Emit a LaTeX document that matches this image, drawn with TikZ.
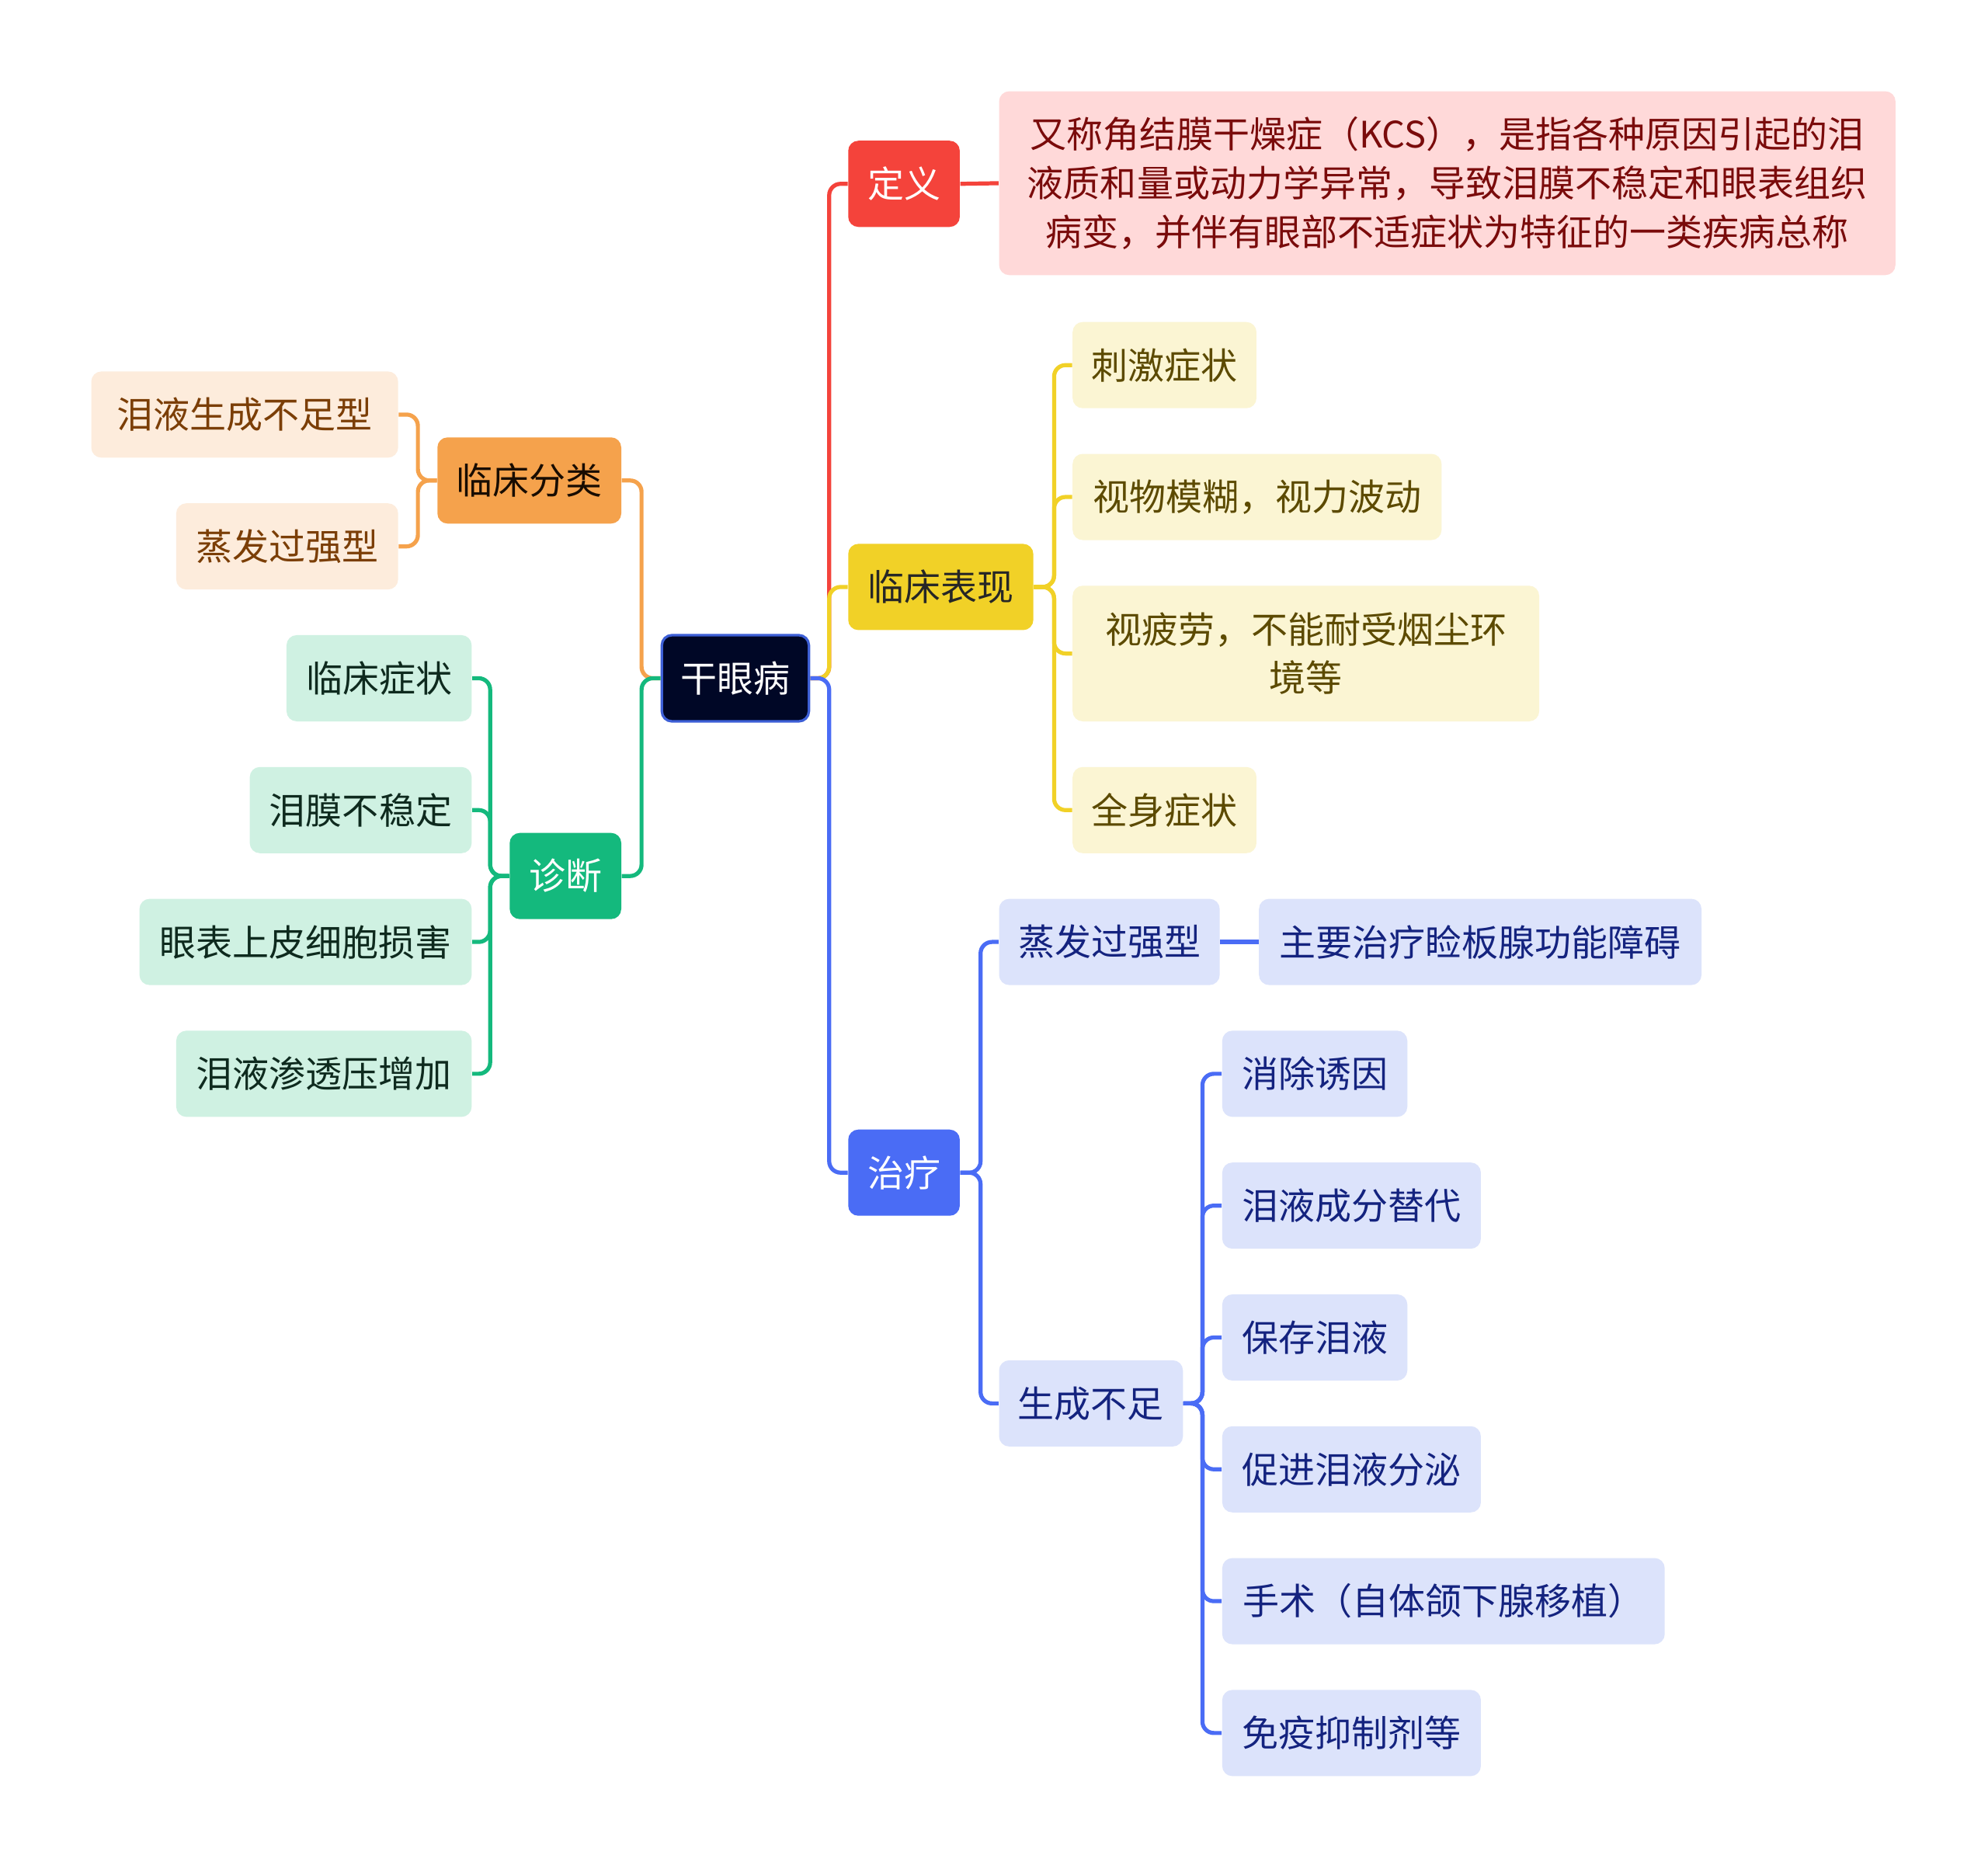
\documentclass[tikz,border=0pt]{standalone}
\usepackage{fontspec}
\setmainfont{Noto Sans CJK SC}
\definecolor{cred}{HTML}{F4433B}
\definecolor{credl}{HTML}{FFD9D9}
\definecolor{credt}{HTML}{7A0B0B}
\definecolor{cyel}{HTML}{F1D127}
\definecolor{cyell}{HTML}{FBF5D3}
\definecolor{cyelt}{HTML}{5C4A00}
\definecolor{cblue}{HTML}{4A6CF5}
\definecolor{cbluel}{HTML}{DCE3FB}
\definecolor{cbluet}{HTML}{14237F}
\definecolor{corg}{HTML}{F5A24C}
\definecolor{corgl}{HTML}{FDECDC}
\definecolor{corgt}{HTML}{7B3E06}
\definecolor{cgrn}{HTML}{14B97D}
\definecolor{cgrnl}{HTML}{CFF1E2}
\definecolor{cgrnt}{HTML}{0E2A1E}
\definecolor{croot}{HTML}{000726}
\definecolor{crootb}{HTML}{3D5FD6}
\begin{document}
\begin{tikzpicture}[x=0.5pt,y=-0.5pt,
  every node/.style={font=\fontsize{14.4pt}{19.25pt}\selectfont, inner sep=0pt, rounded corners=4pt, align=center},
  sz/.style 2 args={minimum width=#1*0.5pt, minimum height=#2*0.5pt},
  ln/.style={line width=1.6pt, rounded corners=4.5pt},
  rootbox/.style={fill=croot, draw=crootb, line width=1pt, text=white},
  redmain/.style={fill=cred, text=white},
  redsub/.style={fill=credl, text=credt},
  yelmain/.style={fill=cyel, text=black!85},
  yelsub/.style={fill=cyell, text=cyelt},
  bluemain/.style={fill=cblue, text=white},
  bluesub/.style={fill=cbluel, text=cbluet},
  orgmain/.style={fill=corg, text=black!80!corgt},
  orgsub/.style={fill=corgl, text=corgt},
  grnmain/.style={fill=cgrn, text=white},
  grnsub/.style={fill=cgrnl, text=cgrnt}]
\fill[white] (0,0) rectangle (1568,1474);
\useasboundingbox (0,0) rectangle (1568,1474);

% root
\node[rootbox, sz={116}{68}] (root) at (580,535) {干眼病};

% right side main
\node[redmain, sz={88}{68}] (dy) at (713,145) {定义};
\node[redsub, sz={707}{145}] (def) at (1141.5,144.5) {又称角结膜干燥症（KCS），是指各种原因引起的泪\\液质和量或动力学异常，导致泪膜不稳定和眼表组织\\病变，并伴有眼部不适症状为特征的一类疾病总称};

\node[yelmain, sz={146}{68}] (bx) at (742,463) {临床表现};
\node[yelsub, sz={145}{68}] (b1) at (918.5,288) {刺激症状};
\node[yelsub, sz={291}{68}] (b2) at (991.5,392) {视物模糊，视力波动};
\node[yelsub, sz={368}{107}] (b3) at (1030,515.5) {视疲劳，不能耐受烟尘环\\境等};
\node[yelsub, sz={145}{68}] (b4) at (918.5,639) {全身症状};

\node[bluemain, sz={88}{68}] (zl) at (713,925) {治疗};
\node[bluesub, sz={174}{68}] (zf) at (875,743) {蒸发过强型};
\node[bluesub, sz={349}{68}] (zy) at (1167.5,743) {主要治疗睑板腺功能障碍};
\node[bluesub, sz={145}{68}] (sc) at (860.5,1107) {生成不足};
\node[bluesub, sz={146}{68}] (s1) at (1037,847) {消除诱因};
\node[bluesub, sz={204}{68}] (s2) at (1066,951) {泪液成分替代};
\node[bluesub, sz={146}{68}] (s3) at (1037,1055) {保存泪液};
\node[bluesub, sz={204}{68}] (s4) at (1066,1159) {促进泪液分泌};
\node[bluesub, sz={349}{68}] (s5) at (1138.5,1263) {手术（自体颌下腺移植）};
\node[bluesub, sz={204}{68}] (s6) at (1066,1367) {免疫抑制剂等};

% left side
\node[orgmain, sz={145}{68}] (fl) at (417.5,379) {临床分类};
\node[orgsub, sz={242}{68}] (f1) at (193,327) {泪液生成不足型};
\node[orgsub, sz={175}{68}] (f2) at (226.5,431) {蒸发过强型};

\node[grnmain, sz={88}{68}] (zd) at (446,691) {诊断};
\node[grnsub, sz={146}{68}] (d1) at (299,535) {临床症状};
\node[grnsub, sz={175}{68}] (d2) at (284.5,639) {泪膜不稳定};
\node[grnsub, sz={262}{68}] (d3) at (241,743) {眼表上皮细胞损害};
\node[grnsub, sz={233}{68}] (d4) at (255.5,847) {泪液渗透压增加};

% connectors right of root
\draw[ln, cred] (root.east) -- ++(15,0) |- (dy.west);
\draw[ln, cyel] (root.east) -- ++(15,0) |- (bx.west);
\draw[ln, cblue] (root.east) -- ++(15,0) |- (zl.west);
\draw[ln, cred] (dy.east) -- (def.west);

\foreach \c in {b1,b2,b3,b4}{\draw[ln, cyel] (bx.east) -- ++(16,0) |- (\c.west);}
\foreach \c in {zf,sc}{\draw[ln, cblue] (zl.east) -- ++(16,0) |- (\c.west);}
\draw[ln, cblue] (zf.east) -- (zy.west);
\foreach \c in {s1,s2,s3,s4,s5,s6}{\draw[ln, cblue] (sc.east) -- ++(15,0) |- (\c.west);}

% connectors left of root
\draw[ln, corg] (root.west) -- ++(-15,0) |- (fl.east);
\draw[ln, cgrn] (root.west) -- ++(-15,0) |- (zd.east);
\foreach \c in {f1,f2}{\draw[ln, corg] (fl.west) -- ++(-15,0) |- (\c.east);}
\foreach \c in {d1,d2,d3,d4}{\draw[ln, cgrn] (zd.west) -- ++(-15,0) |- (\c.east);}
\end{tikzpicture}
\end{document}
